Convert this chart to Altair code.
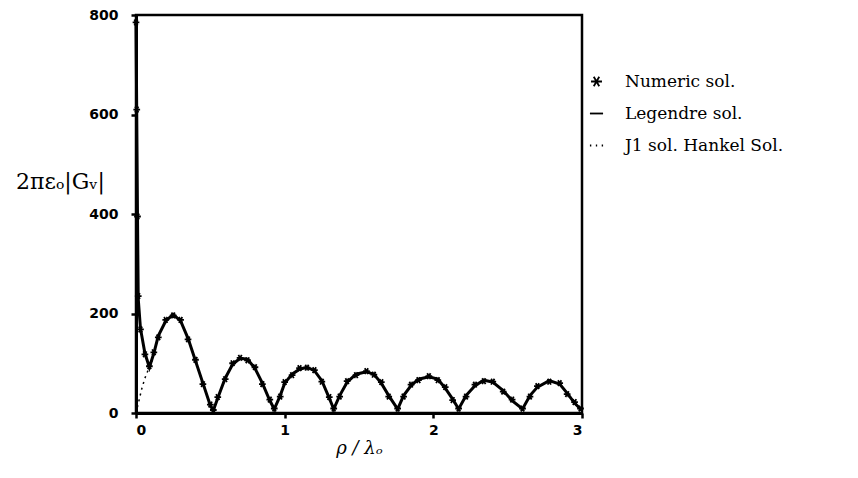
import altair as alt
import pandas as pd

# Legendre solution (solid line)
LEG_X = [0.0, 0.005, 0.01, 0.015, 0.03, 0.06, 0.09, 0.12, 0.15, 0.2, 0.25, 0.3, 0.35, 0.4, 0.45, 0.5, 0.52,
         0.55, 0.6, 0.65, 0.7, 0.75, 0.8, 0.85, 0.9, 0.93, 0.97, 1.0, 1.05, 1.1, 1.15, 1.2, 1.25, 1.3, 1.33,
         1.37, 1.42, 1.48, 1.55, 1.6, 1.65, 1.7, 1.76, 1.8, 1.85, 1.9, 1.97, 2.03, 2.08, 2.13, 2.17,
         2.22, 2.28, 2.34, 2.4, 2.47, 2.53, 2.6, 2.65, 2.7, 2.78, 2.85, 2.9, 2.95, 2.99]
LEG_Y = [790, 600, 400, 230, 170, 120, 92, 120, 155, 185, 198, 185, 150, 105, 60, 15, 5,
         30, 70, 98, 110, 108, 90, 60, 25, 8, 35, 60, 78, 88, 92, 85, 65, 30, 8,
         35, 62, 78, 83, 78, 60, 35, 8, 35, 55, 68, 73, 68, 50, 28, 8,
         35, 55, 66, 62, 45, 25, 8, 35, 52, 65, 58, 40, 20, 8]

# Numeric solution (asterisk markers)
NUM_X = [0.0, 0.005, 0.01, 0.015, 0.03, 0.06, 0.09, 0.12, 0.15, 0.2, 0.25, 0.3, 0.35, 0.4, 0.45, 0.5, 0.52,
         0.55, 0.6, 0.65, 0.7, 0.75, 0.8, 0.85, 0.9, 0.93, 0.97, 1.0, 1.05, 1.1, 1.15, 1.2, 1.25, 1.3, 1.33,
         1.37, 1.42, 1.48, 1.55, 1.6, 1.65, 1.7, 1.76, 1.8, 1.85, 1.9, 1.97, 2.03, 2.08, 2.13, 2.17,
         2.22, 2.28, 2.34, 2.4, 2.47, 2.53, 2.6, 2.65, 2.7, 2.78, 2.85, 2.9, 2.95, 2.99]
NUM_Y = [785, 610, 395, 235, 168, 118, 94, 122, 152, 187, 196, 187, 148, 107, 58, 17, 6,
         32, 68, 100, 111, 106, 92, 58, 27, 9, 33, 62, 76, 90, 91, 86, 63, 32, 9,
         33, 64, 76, 84, 77, 62, 33, 9, 33, 57, 66, 74, 66, 52, 26, 9,
         33, 57, 64, 63, 43, 27, 9, 33, 54, 63, 60, 38, 22, 9]

# J1 / Hankel solution (dotted line)
J1_X = [0.0, 0.02, 0.04, 0.06, 0.08, 0.1, 0.12, 0.15, 0.2, 0.25, 0.3, 0.35, 0.4, 0.45, 0.5, 0.52,
        0.55, 0.6, 0.65, 0.7, 0.75, 0.8, 0.85, 0.9, 0.93, 0.97, 1.0, 1.05, 1.1, 1.15, 1.2, 1.25, 1.3, 1.33,
        1.37, 1.42, 1.48, 1.55, 1.6, 1.65, 1.7, 1.76, 1.8, 1.85, 1.9, 1.97, 2.03, 2.08, 2.13, 2.17,
        2.22, 2.28, 2.34, 2.4, 2.47, 2.53, 2.6, 2.65, 2.7, 2.78, 2.85, 2.9, 2.95, 2.99]
J1_Y = [0, 25, 50, 70, 85, 95, 118, 155, 185, 198, 185, 150, 105, 60, 15, 5,
        30, 70, 98, 110, 108, 90, 60, 25, 8, 35, 60, 78, 88, 92, 85, 65, 30, 8,
        35, 62, 78, 83, 78, 60, 35, 8, 35, 55, 68, 73, 68, 50, 28, 8,
        35, 55, 66, 62, 45, 25, 8, 35, 52, 65, 58, 40, 20, 8]

SERIES = ["Numeric sol.", "Legendre sol.", "J1 sol. Hankel Sol."]
X_TICKS = [0, 1, 2, 3]
Y_TICKS = [0, 200, 400, 600, 800]

ASTERISK = "M-1,0L1,0M-0.5,-0.87L0.5,0.87M-0.5,0.87L0.5,-0.87"
SOLID = "M-1.2,0L1.2,0"
DOTTED = "M-1.2,0L-0.95,0M-0.12,0L0.12,0M0.95,0L1.2,0"

leg = pd.DataFrame({"x": LEG_X, "y": LEG_Y})
num = pd.DataFrame({"x": NUM_X, "y": NUM_Y, "series": SERIES[0]})
j1 = pd.DataFrame({"x": J1_X, "y": J1_Y})

xs = alt.Scale(domain=[0, 3], nice=False)
ys = alt.Scale(domain=[0, 800], nice=False)

x_axis = alt.Axis(values=X_TICKS, format="d", title="ρ / λₒ", grid=False, labelFont="DejaVu Sans",
                  labelFontWeight="bold", labelFontSize=14, labelPadding=5, tickSize=5,
                  tickWidth=2.5, tickColor="black", domainColor="black", domainWidth=3,
                  labelColor="black", titleFont="DejaVu Serif", titleFontStyle="italic",
                  titleFontWeight="normal", titleFontSize=18, titlePadding=2, titleColor="black")
y_axis = alt.Axis(values=Y_TICKS, format="d", title="2πεₒ|Gᵥ|", grid=False, labelFont="DejaVu Sans",
                  labelFontWeight="bold", labelFontSize=14, labelPadding=13, tickSize=5,
                  tickWidth=2.5, tickColor="black", domainColor="black", domainWidth=3,
                  labelColor="black", titleFont="DejaVu Serif", titleFontWeight="normal",
                  titleFontSize=22, titleAngle=0, titleX=-76, titleY=166, titleAlign="center",
                  titleBaseline="middle", titleColor="black")

line = alt.Chart(leg).mark_line(color="black", strokeWidth=3).encode(
    x=alt.X("x:Q", scale=xs, axis=x_axis), y=alt.Y("y:Q", scale=ys, axis=y_axis))
dots = alt.Chart(j1).mark_line(color="black", strokeWidth=1.5, strokeDash=[2, 4]).encode(
    x=alt.X("x:Q", scale=xs), y=alt.Y("y:Q", scale=ys))
pts = alt.Chart(num).mark_point(filled=False, color="black", size=45, strokeWidth=1.8, opacity=1).encode(
    x=alt.X("x:Q", scale=xs), y=alt.Y("y:Q", scale=ys),
    shape=alt.Shape("series:N", scale=alt.Scale(domain=SERIES, range=[ASTERISK, SOLID, DOTTED]),
                    legend=alt.Legend(title=None, orient="none", legendX=452, legendY=58,
                                      labelFont="DejaVu Serif", labelFontSize=17, labelColor="black",
                                      symbolSize=120, symbolStrokeWidth=1.8, symbolStrokeColor="black",
                                      symbolFillColor="transparent", symbolOpacity=1, rowPadding=14,
                                      labelOffset=20, labelLimit=400)))

chart = (dots + line + pts).properties(
    width=446, height=398, autosize=alt.AutoSizeParams(type="none"), background="white",
    padding={"left": 128, "top": 7, "right": 260, "bottom": 57},
).configure_view(stroke="black", strokeWidth=2.5)

chart.save("out.html", embed_options={"renderer": "svg", "actions": False})
